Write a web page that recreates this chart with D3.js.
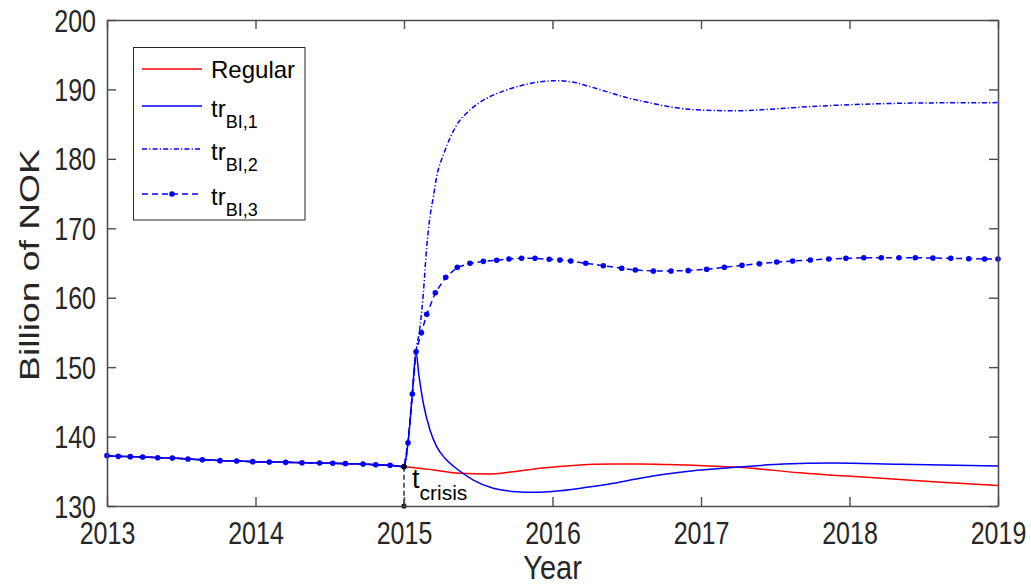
<!DOCTYPE html>
<html>
<head>
<meta charset="utf-8">
<script src="https://cdn.jsdelivr.net/npm/d3@7"></script>
<style>
  html, body { margin: 0; padding: 0; background: #ffffff; }
  svg { display: block; font-family: "Liberation Sans", Arial, Helvetica, sans-serif; }
</style>
</head>
<body>
<svg id="chart" width="1031" height="587"></svg>
<script>
// ---------------- data ----------------
const xTicks = [2013, 2014, 2015, 2016, 2017, 2018, 2019];
const yTicks = [130, 140, 150, 160, 170, 180, 190, 200];
const xLabel = "Year";
const yLabel = "Billion of NOK";
const crisisYear = 2015;
const crisisValue = 135.66;

// shared path before the crisis (all four series coincide)
const preCrisis = [
  [2013.0,137.25],[2013.076,137.15],[2013.157,137.11],[2013.24,137.06],[2013.341,136.96],
  [2013.44,136.91],[2013.545,136.77],[2013.642,136.67],[2013.761,136.53],[2013.873,136.48],
  [2013.981,136.39],[2014.093,136.34],[2014.203,136.29],[2014.313,136.24],[2014.432,136.19],
  [2014.52,136.15],[2014.605,136.10],[2014.724,136.05],[2014.81,135.95],[2014.906,135.86],
  [2015.0,135.66]
];

const regularPost = [
  [2015.1,135.45],[2015.198,135.19],[2015.377,134.71],[2015.557,134.61],[2015.736,134.94],
  [2015.916,135.43],[2016.096,135.76],[2016.275,136.0],[2016.41,136.05],[2016.589,136.05],
  [2016.769,135.98],[2016.948,135.86],[2017.128,135.7],[2017.251,135.57],[2017.66,134.8],
  [2018.116,134.13],[2018.565,133.5],[2019.0,132.95]
];

const tr1Post = [
  [2015.027,139.12],[2015.056,146.13],[2015.081,152.22],[2015.1,148.9],[2015.13,144.8],
  [2015.175,140.95],[2015.22,138.54],[2015.276,136.87],[2015.366,135.19],[2015.467,133.74],
  [2015.601,132.55],[2015.759,132.06],[2015.871,131.97],[2016.05,132.2],[2016.23,132.69],
  [2016.41,133.27],[2016.589,133.99],[2016.769,134.61],[2016.948,135.08],[2017.128,135.4],
  [2017.251,135.6],[2017.554,136.05],[2017.89,136.2],[2018.34,136.0],[2019.0,135.76]
];

const tr2Post = [
  [2015.027,139.12],[2015.056,146.13],[2015.081,152.22],[2015.108,155.82],[2015.13,160.63],
  [2015.153,167.35],[2015.175,171.67],[2015.198,174.55],[2015.22,177.43],[2015.269,180.8],
  [2015.355,184.88],[2015.444,187.04],[2015.557,188.72],[2015.692,189.92],[2015.803,190.64],
  [2015.916,191.11],[2016.028,191.26],[2016.14,191.02],[2016.253,190.4],[2016.365,189.68],
  [2016.477,188.95],[2016.589,188.38],[2016.702,187.85],[2016.813,187.42],[2016.926,187.13],
  [2017.038,186.99],[2017.15,186.94],[2017.263,186.94],[2017.5,187.2],[2017.75,187.55],
  [2018.0,187.8],[2018.5,188.05],[2019.0,188.1]
];

const tr3Post = [
  [2015.027,139.12],[2015.056,146.13],[2015.081,152.22],[2015.117,154.96],[2015.153,157.61],
  [2015.211,160.72],[2015.281,162.94],[2015.359,164.38],[2015.444,164.96],[2015.534,165.24],
  [2015.624,165.4],[2015.707,165.58],[2015.792,165.67],[2015.882,165.67],[2015.978,165.53],
  [2016.05,165.43],[2016.123,165.29],[2016.224,164.96],[2016.342,164.61],[2016.466,164.24],
  [2016.558,163.99],[2016.679,163.85],[2016.798,163.85],[2016.914,163.9],[2017.038,164.09],
  [2017.157,164.38],[2017.276,164.67],[2017.393,164.9],[2017.51,165.14],[2017.617,165.29],
  [2017.736,165.43],[2017.86,165.58],[2017.976,165.67],[2018.096,165.76],[2018.214,165.76],
  [2018.333,165.76],[2018.443,165.76],[2018.562,165.72],[2018.682,165.67],[2018.803,165.62],
  [2018.91,165.58],[2019.0,165.58]
];

const seriesNames = ["Regular", "tr_BI,1", "tr_BI,2", "tr_BI,3"];

// ---------------- layout ----------------
const svg = d3.select("#chart");
const W = 1031, H = 587;
const plot = { left: 107, right: 998, top: 20, bottom: 506 };
const axisColor = "#262626";
const frameColor = "#4d4d4d";
const textStretch = 1.22; // glyphs in the reference are taller than wide

const x = d3.scaleLinear().domain([xTicks[0], xTicks[xTicks.length - 1]]).range([plot.left, plot.right]);
const y = d3.scaleLinear().domain([yTicks[0], yTicks[yTicks.length - 1]]).range([plot.bottom, plot.top]);

svg.append("rect").attr("width", W).attr("height", H).attr("fill", "#ffffff");

const series = [
  { name: seriesNames[0], data: preCrisis.concat(regularPost), color: "#ff0000", dash: null, markers: false, curve: d3.curveMonotoneX },
  { name: seriesNames[1], data: preCrisis.concat(tr1Post), color: "#0000ff", dash: null, markers: false, curve: d3.curveMonotoneX },
  { name: seriesNames[2], data: preCrisis.concat(tr2Post), color: "#0000ff", dash: "5,2.2,1.2,2.2", markers: false, curve: d3.curveMonotoneX },
  { name: seriesNames[3], data: preCrisis.concat(tr3Post), color: "#0000ff", dash: "6,4", markers: true, curve: d3.curveLinear }
];

// ---------------- lines ----------------
const gLines = svg.append("g");
series.forEach(s => {
  const line = d3.line().x(d => x(d[0])).y(d => y(d[1])).curve(s.curve);
  gLines.append("path")
    .datum(s.data)
    .attr("d", line)
    .attr("fill", "none")
    .attr("stroke", s.color)
    .attr("stroke-width", 1.5)
    .attr("stroke-dasharray", s.dash)
    .attr("stroke-linejoin", "round");
  if (s.markers) {
    gLines.selectAll(null).data(s.data).enter().append("circle")
      .attr("cx", d => x(d[0])).attr("cy", d => y(d[1]))
      .attr("r", 2.8).attr("fill", s.color);
  }
});

// ---------------- crisis marker ----------------
const gCrisis = svg.append("g");
gCrisis.append("line")
  .attr("x1", x(crisisYear)).attr("x2", x(crisisYear))
  .attr("y1", y(crisisValue)).attr("y2", y(yTicks[0]))
  .attr("stroke", "#000").attr("stroke-width", 1.2).attr("stroke-dasharray", "5,3");
gCrisis.selectAll(null).data([crisisValue, yTicks[0]]).enter().append("circle")
  .attr("cx", x(crisisYear)).attr("cy", d => y(d)).attr("r", 2.6).attr("fill", "#000");
const ct = gCrisis.append("text")
  .attr("x", x(crisisYear) + 8).attr("y", 488)
  .attr("fill", "#000").attr("font-size", 27);
ct.append("tspan").text("t");
ct.append("tspan").attr("font-size", 21).attr("dy", 12).attr("dx", 0).text("crisis");

// ---------------- axes ----------------
const gx = svg.append("g").attr("transform", `translate(0,${plot.bottom})`)
  .call(d3.axisBottom(x).tickValues(xTicks).tickFormat(d3.format("d")).tickSize(-9).tickSizeOuter(0));
const gy = svg.append("g").attr("transform", `translate(${plot.left},0)`)
  .call(d3.axisLeft(y).tickValues(yTicks).tickFormat(d3.format("d")).tickSize(-9).tickSizeOuter(0));
const gxTop = svg.append("g").attr("transform", `translate(0,${plot.top})`)
  .call(d3.axisTop(x).tickValues(xTicks).tickFormat("").tickSize(-9).tickSizeOuter(0));
const gyRight = svg.append("g").attr("transform", `translate(${plot.right},0)`)
  .call(d3.axisRight(y).tickValues(yTicks).tickFormat("").tickSize(-9).tickSizeOuter(0));

[gx, gy, gxTop, gyRight].forEach(g => {
  g.select(".domain").attr("stroke", frameColor).attr("stroke-width", 1.6);
  g.selectAll(".tick line").attr("stroke", frameColor).attr("stroke-width", 1.4);
  g.selectAll(".tick text").attr("fill", axisColor).attr("font-size", 25)
    .attr("font-family", "Liberation Sans, Arial, sans-serif");
});
// stretched tick labels
gx.selectAll(".tick text")
  .attr("y", null).attr("dy", null)
  .attr("text-anchor", "middle")
  .attr("transform", `translate(0,${544 - plot.bottom}) scale(1,${textStretch})`);
gy.selectAll(".tick text")
  .attr("x", null).attr("dy", null)
  .attr("text-anchor", "end")
  .attr("transform", `translate(-11,11) scale(1,${textStretch})`);

// axis titles
svg.append("text")
  .attr("transform", `translate(${(plot.left + plot.right) / 2},579) scale(1,1.15)`)
  .attr("text-anchor", "middle").attr("fill", axisColor).attr("font-size", 29)
  .text(xLabel);
svg.append("text")
  .attr("transform", `translate(39,265) rotate(-90) scale(1.33,1)`)
  .attr("text-anchor", "middle").attr("fill", axisColor).attr("font-size", 28)
  .text(yLabel);

// ---------------- legend ----------------
const leg = svg.append("g");
leg.append("rect")
  .attr("x", 133.5).attr("y", 47.5).attr("width", 171.5).attr("height", 172.5)
  .attr("fill", "#fff").attr("stroke", axisColor).attr("stroke-width", 1);
const rowY = [69, 106, 149, 194];
series.forEach((s, i) => {
  const ly = rowY[i];
  leg.append("line")
    .attr("x1", 142).attr("x2", 202).attr("y1", ly).attr("y2", ly)
    .attr("stroke", s.color).attr("stroke-width", 1.5)
    .attr("stroke-dasharray", s.dash);
  if (s.markers) {
    leg.append("circle").attr("cx", 172).attr("cy", ly).attr("r", 2.8).attr("fill", s.color);
  }
  const parts = s.name.split("_");
  const t = leg.append("text").attr("x", 211).attr("fill", "#000").attr("font-size", 24);
  if (parts.length === 1) {
    t.attr("y", ly + 9).text(parts[0]);
  } else {
    t.attr("y", ly + 11);
    t.append("tspan").text(parts[0]);
    t.append("tspan").attr("font-size", 18).attr("dy", 11).text(parts[1]);
  }
});
</script>
</body>
</html>
